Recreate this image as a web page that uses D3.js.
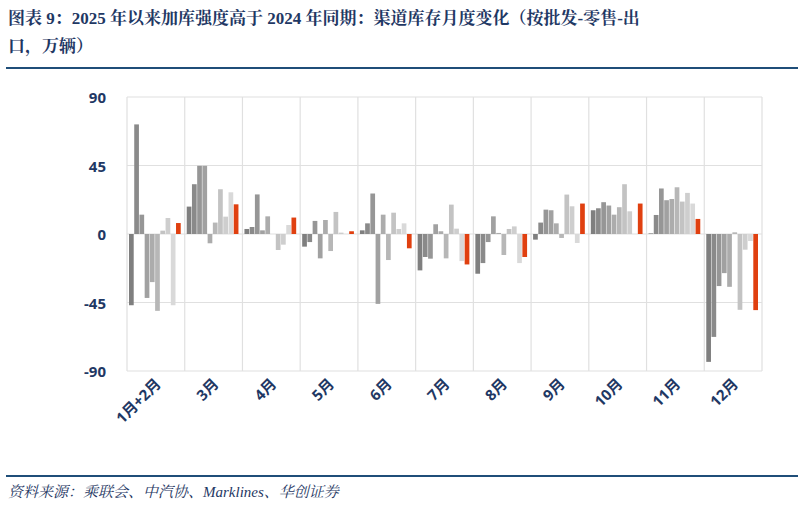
<!DOCTYPE html>
<html><head><meta charset="utf-8">
<script src="https://cdn.jsdelivr.net/npm/d3@7"></script>
<style>body{margin:0;background:#fff}</style>
</head><body>
<svg id="chart" width="804" height="507"></svg>
<script>
const months = ['1月+2月','3月','4月','5月','6月','7月','8月','9月','10月','11月','12月'];
const years = ['2016','2017','2018','2019','2020','2021','2022','2023','2024','2025'];
// values[month][year]
const values = [
  [-46.8, 72, 12.7, -42, -31.6, -50.5, 2.2, 10.5, -46.8, 7.2],
  [18, 32.7, 44.8, 44.8, -6.1, 7.5, 29.4, 11.4, 27.4, 19.5],
  [3.3, 4.6, 26, 2.4, 11.6, 0, -10.5, -7, 5.9, 10.8],
  [-8.3, -5.3, 8.6, -16, 9.2, -11.2, 14.5, 0.9, 0, 1.8],
  [2.4, 7, 26.6, -45.9, 12.7, -17.1, 14, 3.3, 7, -9.4],
  [-23.9, -15.1, -16.2, 6.4, 1.8, -16, 19.3, 3.5, -17.8, -20],
  [-26.1, -19.1, -5.3, 11.6, 0.7, -13.8, 3.3, 5, -19.1, -15.1],
  [-3.7, 7.5, 16, 15.6, 7, -2.6, 25.9, 18.2, -5.9, 20],
  [15.6, 16.9, 20.9, 18.7, 12.7, 17.6, 32.7, 14.9, 0, 20],
  [0.4, 12.5, 29.9, 22.2, 23, 30.7, 21.3, 27, 20, 9.9],
  [-84, -67.6, -34.2, -25.7, -34.7, 1.1, -49.8, -10.3, -4.6, -50]
];
const yTicks = [90, 45, 0, -45, -90];

const svg = d3.select('#chart');
const pLeft = 127, pRight = 762, pTop = 97, pBottom = 371;

const x0 = d3.scaleBand().domain(months).range([pLeft, pRight]);
const x1 = d3.scaleBand().domain(years).range([2, x0.bandwidth() - 4]).paddingInner(0.1);
const y = d3.scaleLinear().domain([-90, 90]).range([pBottom, pTop]);
const grey = d3.scaleLinear().domain([0, 8]).range(['#7f7f7f', '#d9d9d9']);
const color = (i) => i === 9 ? '#e04010' : grey(i);

// title
const title = svg.append('g').attr('fill', '#1f3864')
  .style('font-family', '"Times New Roman","Liberation Serif","Noto Serif CJK SC","Noto Sans CJK SC",serif')
  .style('font-weight', 'bold').style('font-size', '17px');
title.append('text').attr('x', 8).attr('y', 24).text('图表 9：2025 年以来加库强度高于 2024 年同期：渠道库存月度变化（按批发-零售-出');
title.append('text').attr('x', 8).attr('y', 52).text('口，万辆）');
svg.append('line').attr('x1', 6).attr('x2', 798).attr('y1', 68).attr('y2', 68).attr('stroke', '#1f4e79').attr('stroke-width', 2);

// grid
const grid = svg.append('g').attr('stroke', '#e0e0e0').attr('stroke-width', 1.2);
grid.selectAll('.h').data(yTicks).join('line')
  .attr('x1', pLeft).attr('x2', pRight).attr('y1', d => y(d)).attr('y2', d => y(d));
grid.selectAll('.v').data(months.map(m => x0(m)).concat([pRight])).join('line')
  .attr('x1', d => d).attr('x2', d => d).attr('y1', pTop).attr('y2', pBottom);

// y labels
svg.append('g').selectAll('text').data(yTicks).join('text')
  .attr('x', 106).attr('y', d => y(d) + 6).attr('text-anchor', 'end')
  .attr('fill', '#1f3864').style('font-family', '"Open Sans",sans-serif')
  .style('font-weight', 'bold').style('font-size', '15px').text(d => d);

// bars
const groups = svg.append('g').selectAll('g').data(values).join('g')
  .attr('transform', (d, i) => `translate(${x0(months[i])},0)`);
groups.selectAll('rect').data(d => d).join('rect')
  .attr('x', (d, i) => x1(years[i]))
  .attr('width', x1.bandwidth())
  .attr('y', d => y(Math.max(0, d)))
  .attr('height', d => Math.abs(y(d) - y(0)))
  .attr('fill', (d, i) => color(i));

// x labels
svg.append('g').selectAll('text').data(months).join('text')
  .attr('transform', d => `translate(${x0(d) + x0.bandwidth() / 2 + 6},${pBottom + 14}) rotate(-45)`)
  .attr('text-anchor', 'end').attr('fill', '#1f3864')
  .style('font-family', '"Open Sans","Noto Sans CJK SC",sans-serif')
  .style('font-weight', 'bold').style('font-size', '15px').text(d => d);

// footer
svg.append('line').attr('x1', 6).attr('x2', 798).attr('y1', 476).attr('y2', 476).attr('stroke', '#1f4e79').attr('stroke-width', 2);
svg.append('text').attr('x', 8).attr('y', 497).attr('fill', '#1f3864')
  .style('font-family', '"Times New Roman","Liberation Serif","Noto Serif CJK SC",serif')
  .style('font-style', 'italic').style('font-size', '15px')
  .text('资料来源：乘联会、中汽协、Marklines、华创证券');
</script>
</body></html>
